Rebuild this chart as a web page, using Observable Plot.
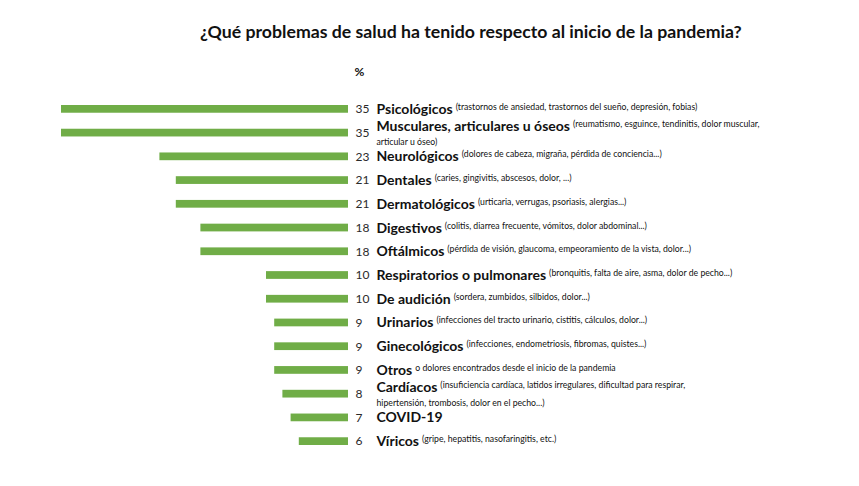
<!DOCTYPE html>
<html>
<head>
<meta charset="utf-8">
<script src="https://cdn.jsdelivr.net/npm/d3@7"></script>
<script src="https://cdn.jsdelivr.net/npm/@observablehq/plot@0.6"></script>
<style>
  html, body { margin: 0; padding: 0; background: #fff; }
  body { width: 859px; height: 486px; overflow: hidden; font-family: Lato, "Noto Sans", sans-serif; }
  #title { height: 50px; box-sizing: border-box; padding-top: 22px; padding-left: 200px;
           font: 700 17.7px Lato, sans-serif; line-height: 20px; color: #111; white-space: nowrap; }
  svg { display: block; }
</style>
</head>
<body>
<div id="title"></div>
<div id="chart"></div>
<script>
const titleText = "¿Qué problemas de salud ha tenido respecto al inicio de la pandemia?";
const unitLabel = "%";
const categories = ["Psicológicos", "Musculares, articulares u óseos", "Neurológicos", "Dentales",
  "Dermatológicos", "Digestivos", "Oftálmicos", "Respiratorios o pulmonares", "De audición",
  "Urinarios", "Ginecológicos", "Otros", "Cardíacos", "COVID-19", "Víricos"];
const values = [35, 35, 23, 21, 21, 18, 18, 10, 10, 9, 9, 9, 8, 7, 6];
const descriptions = [
  "(trastornos de ansiedad, trastornos del sueño, depresión, fobias)",
  "(reumatismo, esguince, tendinitis, dolor muscular,\narticular u óseo)",
  "(dolores de cabeza, migraña, pérdida de conciencia...)",
  "(caries, gingivitis, abscesos, dolor, ...)",
  "(urticaria, verrugas, psoriasis, alergias...)",
  "(colitis, diarrea frecuente, vómitos, dolor abdominal...)",
  "(pérdida de visión, glaucoma, empeoramiento de la vista, dolor...)",
  "(bronquitis, falta de aire, asma, dolor de pecho...)",
  "(sordera, zumbidos, silbidos, dolor...)",
  "(infecciones del tracto urinario, cistitis, cálculos, dolor...)",
  "(infecciones, endometriosis, fibromas, quistes...)",
  "o dolores encontrados desde el inicio de la pandemia",
  "(insuficiencia cardíaca, latidos irregulares, dificultad para respirar,\nhipertensión, trombosis, dolor en el pecho...)",
  "",
  "(gripe, hepatitis, nasofaringitis, etc.)"
];

document.getElementById("title").textContent = titleText;

const rows = categories.map((name, i) => ({name, value: values[i], desc: descriptions[i]}));

const NAME_SIZE = 14;
const svg = Plot.plot({
  width: 859,
  height: 436,
  marginLeft: 61,
  marginRight: 511,
  marginTop: 47,
  marginBottom: 33,
  style: {fontFamily: "Lato, sans-serif", background: "#fff"},
  x: {domain: [0, 35], reverse: true, axis: null},
  y: {domain: categories, axis: null, paddingInner: 0, paddingOuter: 0, round: false},
  marks: [
    Plot.barX(rows, {x: "value", y: "name", fill: "#70ad47", insetTop: 8, insetBottom: 8}),
    Plot.text(rows, {x: () => 0, y: "name", text: d => String(d.value), textAnchor: "start",
      dx: 7, fontSize: 12, fill: "#2a2a2a"}),
    Plot.text(rows, {x: () => 0, y: "name", text: "name", textAnchor: "start",
      dx: 28, fontSize: NAME_SIZE, fontWeight: "bold", fill: "#111", ariaDescription: "names"}),
    Plot.text([unitLabel], {x: () => 0, text: d => d, frameAnchor: "top", lineAnchor: "middle",
      dx: 11, dy: -25, fontSize: 12, fontWeight: "bold", fill: "#111"})
  ]
});

// add the smaller descriptions next to each bold name
const ns = "http://www.w3.org/2000/svg";
const texts = svg.querySelectorAll('g[aria-description="names"] text');
texts.forEach((t, i) => {
  const d = rows[i];
  if (!d || !d.desc) return;
  const lines = d.desc.split("\n");
  const name = t.textContent;
  const yAttr = t.getAttribute("y");
  const xa = t.getAttribute("x");
  const xBase = xa && !/em$/.test(xa) ? xa : 0;
  t.textContent = "";
  const n = document.createElementNS(ns, "tspan");
  n.textContent = name;
  t.appendChild(n);
  const s = document.createElementNS(ns, "tspan");
  s.textContent = lines[0];
  s.setAttribute("font-size", "8.7");
  s.setAttribute("font-weight", "normal");
  s.setAttribute("dx", "3");
  s.setAttribute("dy", "-4");
  t.appendChild(s);
  if (lines.length > 1) {
    const l2 = document.createElementNS(ns, "tspan");
    l2.textContent = lines[1];
    l2.setAttribute("font-size", "8.7");
    l2.setAttribute("font-weight", "normal");
    l2.setAttribute("x", xBase);
    l2.setAttribute("dy", "18");
    t.appendChild(l2);
    const shift = 7;
    if (yAttr == null || /em$/.test(yAttr)) {
      const em = yAttr ? parseFloat(yAttr) : 0;
      t.setAttribute("y", String(em * NAME_SIZE - shift));
    } else {
      t.setAttribute("y", String(parseFloat(yAttr) - shift));
    }
  }
});

document.getElementById("chart").appendChild(svg);
</script>
</body>
</html>
